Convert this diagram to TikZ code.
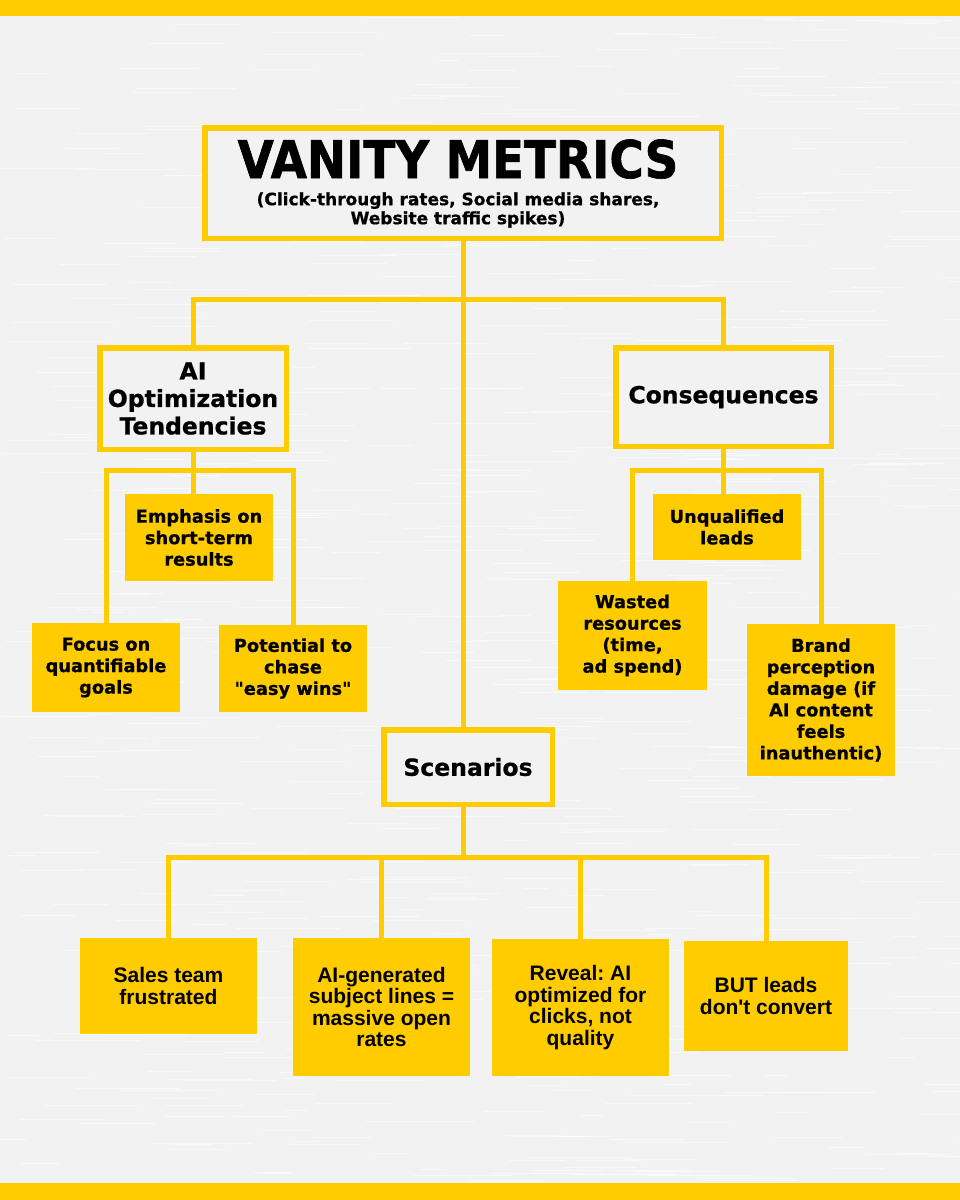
\documentclass[tikz,border=0pt]{standalone}
\usepackage{fontspec}
\setmainfont{DejaVu Sans}[BoldFeatures={FakeBold=0.8}]
\newfontfamily\titlefont{DejaVu Sans}[FakeStretch=0.9,BoldFeatures={FakeBold=1.2}]
\newfontfamily\condfont{Liberation Sans}
\newcommand\straightdq{\XeTeXglyph\XeTeXcharglyph"22\relax}
\definecolor{myyellow}{HTML}{FFCC00}
\definecolor{paper}{HTML}{F2F2F2}
\begin{document}
\frenchspacing
\begin{tikzpicture}[x=1pt,y=-1pt,
  conn/.style={draw=myyellow,line width=5pt},
  outbox/.style={draw=myyellow,line width=5.5pt,fill=paper,inner sep=0pt,align=center,
    font=\bfseries\fontsize{23.5}{27.5}\selectfont},
  fillbox/.style={fill=myyellow,inner sep=0pt,align=center,
    font=\bfseries\fontsize{17.8}{21.5}\selectfont},
  condbox/.style={fill=myyellow,inner sep=0pt,align=center,
    font=\condfont\bfseries\fontsize{21}{21.5}\selectfont},
  streak/.style={white,line width=0.8pt,opacity=0.55},
]
\fill[paper] (0,0) rectangle (960,1200);
\useasboundingbox (0,0) rectangle (960,1200);
% paper texture
\pgfmathsetseed{7}
\foreach \i in {1,...,700}{
  \pgfmathsetmacro\tx{rnd*960}
  \pgfmathsetmacro\ty{16+rnd*1167}
  \pgfmathsetmacro\tl{20+rnd*90}
  \draw[streak] (\tx,\ty) -- ++(\tl,0);
}
\fill[myyellow] (0,0) rectangle (960,16);
\fill[myyellow] (0,1183) rectangle (960,1200);

% title
\node[outbox, minimum width=516.5pt, minimum height=110.5pt] (title) at (463,183) {};
\node[font=\titlefont\bfseries\fontsize{52}{52}\selectfont, anchor=base, inner sep=0pt] (titletext) at (458,178) {VANITY METRICS};
\node[font=\bfseries\fontsize{17}{19}\selectfont, align=center, inner sep=0pt] (subtitle) at (458,210) {(Click-through rates, Social media shares,\\Website traffic spikes)};

% level 2
\node[outbox, minimum width=186.5pt, minimum height=101.5pt] (ai) at (193,398.5) {AI\\Optimization\\Tendencies};
\node[outbox, minimum width=215.5pt, minimum height=98.5pt] (cons) at (723.5,397) {Consequences};
\node[outbox, minimum width=168.5pt, minimum height=74.5pt] (scen) at (468,767) {Scenarios};

% AI children
\node[fillbox, minimum width=148pt, minimum height=87pt] (emph) at (199,537.5) {Emphasis on\\short-term\\results};
\node[fillbox, minimum width=148pt, minimum height=89pt] (focus) at (106,667.5) {Focus on\\quantifiable\\goals};
\node[fillbox, minimum width=148pt, minimum height=87pt] (pot) at (293,668.5) {Potential to\\chase\\\straightdq easy wins\straightdq};

% Consequences children
\node[fillbox, minimum width=148pt, minimum height=66pt] (unq) at (727,527) {Unqualified\\leads};
\node[fillbox, minimum width=149pt, minimum height=109pt] (wasted) at (632.5,635.5) {Wasted\\resources\\(time,\\ad spend)};
\node[fillbox, minimum width=148pt, minimum height=152pt] (brand) at (821,700) {Brand\\perception\\damage (if\\AI content\\feels\\inauthentic)};

% Scenario children
\node[condbox, minimum width=177pt, minimum height=96pt] (sales) at (168.5,986) {Sales team\\frustrated};
\node[condbox, minimum width=177pt, minimum height=138pt] (aigen) at (381.5,1007) {AI-generated\\subject lines =\\massive open\\rates};
\node[condbox, minimum width=177pt, minimum height=137pt] (reveal) at (580.5,1007.5) {Reveal: AI\\optimized for\\clicks, not\\quality};
\node[condbox, minimum width=164pt, minimum height=110pt] (but) at (766,996) {BUT leads\\don't convert};

% connectors
\coordinate (j1) at (463,299);
\coordinate (j2) at (193,470);
\coordinate (j3) at (723,470);
\coordinate (j4) at (463,857);
\draw[conn] (title.south) -- (title.south |- scen.north);
\draw[conn] (ai.north) |- (j1) -| (cons.north);
\draw[conn] (ai.south) -- (ai.south |- emph.north);
\draw[conn] (focus.north) |- (j2) -| (pot.north);
\draw[conn] (cons.south) -- (cons.south |- unq.north);
\draw[conn] (wasted.north) |- (j3) -| (brand.north);
\draw[conn] (title.south |- scen.south) -- (j4);
\draw[conn] (sales.north) |- (j4) -| (but.north);
\draw[conn] (aigen.north) -- (aigen.north |- j4);
\draw[conn] (reveal.north) -- (reveal.north |- j4);
\end{tikzpicture}
\end{document}
